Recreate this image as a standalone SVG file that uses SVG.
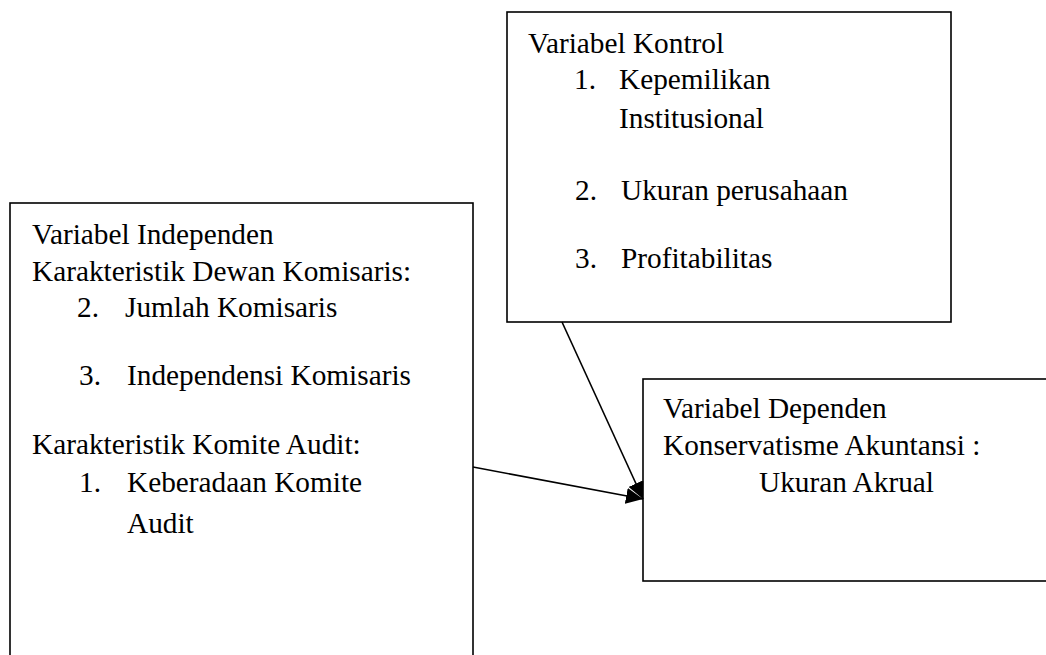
<svg xmlns="http://www.w3.org/2000/svg" width="1046" height="655" viewBox="0 0 1046 655">
<style>
.box{fill:#fff;stroke:#000;stroke-width:1.6}
.t{font-family:"Liberation Serif","Times New Roman",serif;font-size:29.3px;fill:#000}
.c{stroke:#000;stroke-width:1.6;fill:none}
</style>
<defs>
<marker id="ah" markerUnits="userSpaceOnUse" markerWidth="18" markerHeight="16" refX="17" refY="8" orient="auto">
<path d="M0,0 L17,8 L0,16 Z" fill="#000"/>
</marker>
</defs>
<rect width="1046" height="655" fill="#fff"/>
<g id="kontrol">
<rect class="box" x="507" y="12" width="444" height="310"/>
<text class="t" x="528" y="53">Variabel Kontrol</text>
<text class="t" x="574" y="89">1.</text>
<text class="t" x="619" y="89">Kepemilikan</text>
<text class="t" x="619" y="128">Institusional</text>
<text class="t" x="575" y="200">2.</text>
<text class="t" x="621" y="200">Ukuran perusahaan</text>
<text class="t" x="575" y="268">3.</text>
<text class="t" x="621" y="268">Profitabilitas</text>
</g>
<g id="independen">
<rect class="box" x="10" y="203" width="463" height="470"/>
<text class="t" x="32" y="244">Variabel Independen</text>
<text class="t" x="32" y="281">Karakteristik Dewan Komisaris:</text>
<text class="t" x="77" y="317">2.</text>
<text class="t" x="125" y="317">Jumlah Komisaris</text>
<text class="t" x="79" y="385">3.</text>
<text class="t" x="127" y="385">Independensi Komisaris</text>
<text class="t" x="32" y="454">Karakteristik Komite Audit:</text>
<text class="t" x="79" y="492">1.</text>
<text class="t" x="127" y="492">Keberadaan Komite</text>
<text class="t" x="127" y="533">Audit</text>
</g>
<g id="dependen">
<rect class="box" x="643" y="379" width="420" height="202"/>
<text class="t" x="663" y="418">Variabel Dependen</text>
<text class="t" x="663" y="455">Konservatisme Akuntansi :</text>
<text class="t" x="759" y="492">Ukuran Akrual</text>
</g>
<g id="connectors">
<line class="c" x1="562" y1="322" x2="643" y2="499" marker-end="url(#ah)"/>
<line class="c" x1="473" y1="467" x2="643" y2="499" marker-end="url(#ah)"/>
</g>
</svg>
